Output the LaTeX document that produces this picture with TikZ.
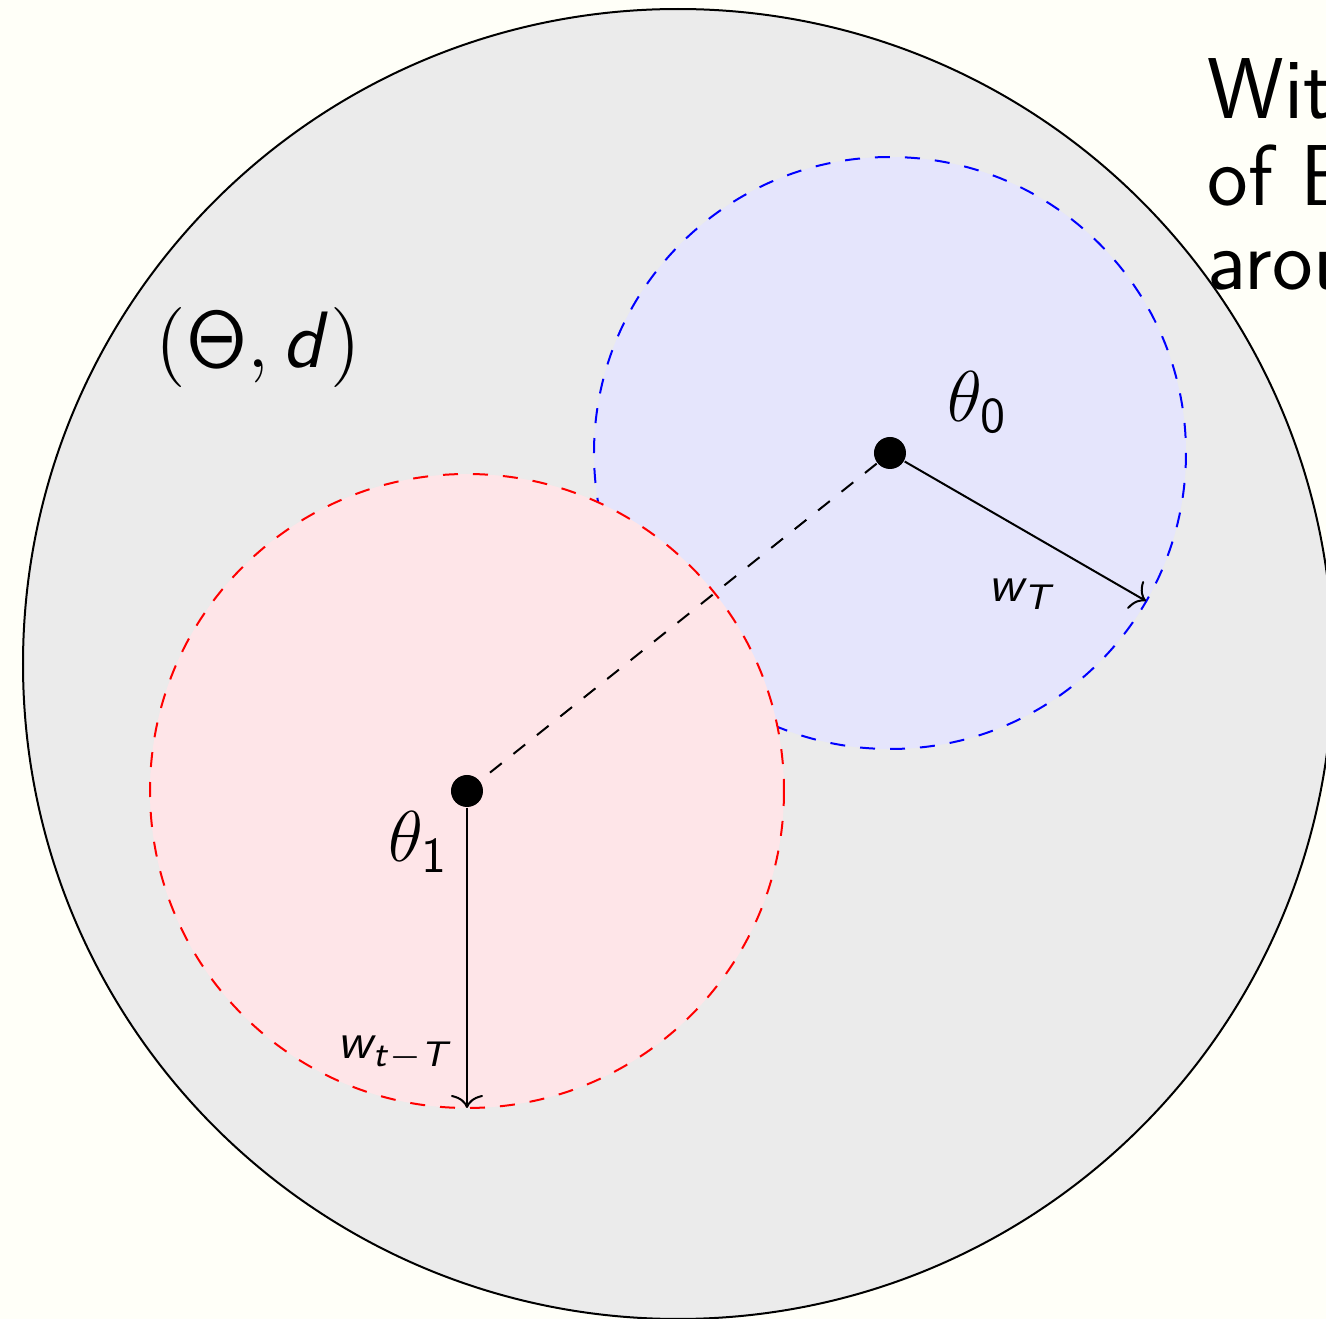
\RequirePackage{fix-cm}
\documentclass[tikz,border=0pt]{standalone}
\usepackage{amsmath}
\usetikzlibrary{arrows.meta}
\DeclareMathAlphabet{\mathsfit}{OT1}{cmss}{m}{sl}
\definecolor{bgc}{RGB}{255,255,248}
\definecolor{grayfill}{RGB}{235,235,235}
\definecolor{bluefill}{RGB}{229,229,252}
\definecolor{redfill}{RGB}{254,229,232}
\begin{document}
\begin{tikzpicture}[x=0.2pt,y=-0.2pt,
  dot/.style={circle,fill=black,inner sep=0pt,minimum size=6.4pt},
  lbl/.style={inner sep=0pt,anchor=base west},
  radarrow/.style={-{Computer Modern Rightarrow[length=2.6pt,width=6.4pt]}},
  bigtext/.style={lbl,font=\sffamily\fontsize{17.28}{20}\selectfont}]
\fill[bgc] (0,0) rectangle (1326,1319);
\useasboundingbox (0,0) rectangle (1326,1319);
\filldraw[fill=grayfill,draw=black] (678,664) circle (655);
\filldraw[fill=bluefill,draw=blue,dashed] (890,453) circle (296);
\filldraw[fill=redfill,draw=red,dashed] (467,791) circle (317);
\node[dot] (t0) at (890,453) {};
\node[dot] (t1) at (467,791) {};
\coordinate (e0) at (1146,601);
\coordinate (e1) at (467,1108);
\draw[dashed] (t0) -- (t1);
\draw[radarrow] (t0) -- (e0);
\draw[radarrow] (t1) -- (e1);
\node[lbl,font=\fontsize{14.4}{17}\selectfont] (l0) at (947,422) {$\theta_{\mathsf{0}}$};
\node[lbl,font=\fontsize{14.4}{17}\selectfont] (l1) at (388,862) {$\theta_{\mathsf{1}}$};
\node[lbl,font=\fontsize{10.2}{12}\selectfont] (lw0) at (988,602) {$\mathsfit{w}_{\mathsfit{T}}$};
\node[lbl,font=\fontsize{10.2}{12}\selectfont] (lw1) at (337,1059) {$\mathsfit{w}_{\mathsfit{t}-\mathsfit{T}}$};
\node[lbl,font=\fontsize{16}{19}\selectfont] (sp) at (155,368) {$(\mathsf{\Theta},\mathsfit{d})$};
\node[bigtext] (tx1) at (1207,118) {Wit};
\node[bigtext] (tx2) at (1207,205) {of B};
\node[bigtext] (tx3) at (1207,290) {arou};
\end{tikzpicture}
\end{document}
